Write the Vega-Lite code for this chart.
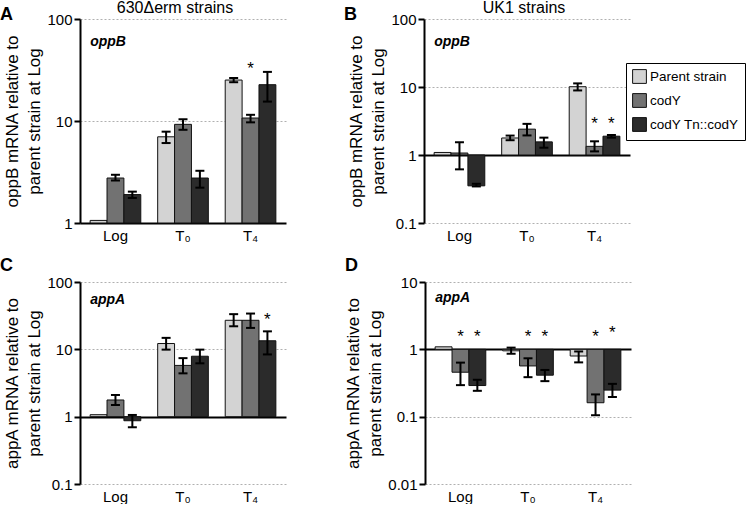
{
  "$schema": "https://vega.github.io/schema/vega-lite/v6.json",
  "background": "white",
  "padding": {"left": 0, "top": 0, "right": 0, "bottom": 0},
  "datasets": {
    "bars": [
      {"panel": "A", "time": "Log", "strain": "Parent strain", "value": 1.06, "base": 1, "lo": null, "hi": null, "star": null},
      {"panel": "A", "time": "Log", "strain": "codY", "value": 2.76, "base": 1, "lo": 2.61, "hi": 2.97, "star": null},
      {"panel": "A", "time": "Log", "strain": "codY Tn::codY", "value": 1.9, "base": 1, "lo": 1.76, "hi": 2.03, "star": null},
      {"panel": "A", "time": "T₀", "strain": "Parent strain", "value": 7.0, "base": 1, "lo": 6.08, "hi": 7.86, "star": null},
      {"panel": "A", "time": "T₀", "strain": "codY", "value": 9.27, "base": 1, "lo": 8.2, "hi": 10.4, "star": null},
      {"panel": "A", "time": "T₀", "strain": "codY Tn::codY", "value": 2.76, "base": 1, "lo": 2.22, "hi": 3.25, "star": null},
      {"panel": "A", "time": "T₄", "strain": "Parent strain", "value": 25.2, "base": 1, "lo": 24.0, "hi": 26.4, "star": null},
      {"panel": "A", "time": "T₄", "strain": "codY", "value": 10.7, "base": 1, "lo": 9.7, "hi": 11.5, "star": 34.8},
      {"panel": "A", "time": "T₄", "strain": "codY Tn::codY", "value": 22.7, "base": 1, "lo": 15.5, "hi": 30.3, "star": null},

      {"panel": "B", "time": "Log", "strain": "Parent strain", "value": 1.09, "base": 1, "lo": null, "hi": null, "star": null},
      {"panel": "B", "time": "Log", "strain": "codY", "value": 1.07, "base": 1, "lo": 0.615, "hi": 1.54, "star": null},
      {"panel": "B", "time": "Log", "strain": "codY Tn::codY", "value": 0.352, "base": 1, "lo": 0.345, "hi": 0.377, "star": null},
      {"panel": "B", "time": "T₀", "strain": "Parent strain", "value": 1.78, "base": 1, "lo": 1.65, "hi": 1.93, "star": null},
      {"panel": "B", "time": "T₀", "strain": "codY", "value": 2.4, "base": 1, "lo": 1.94, "hi": 2.87, "star": null},
      {"panel": "B", "time": "T₀", "strain": "codY Tn::codY", "value": 1.56, "base": 1, "lo": 1.28, "hi": 1.8, "star": null},
      {"panel": "B", "time": "T₄", "strain": "Parent strain", "value": 10.1, "base": 1, "lo": 8.9, "hi": 11.3, "star": null},
      {"panel": "B", "time": "T₄", "strain": "codY", "value": 1.34, "base": 1, "lo": 1.13, "hi": 1.59, "star": 3.18},
      {"panel": "B", "time": "T₄", "strain": "codY Tn::codY", "value": 1.89, "base": 1, "lo": 1.8, "hi": 1.97, "star": 3.18},

      {"panel": "C", "time": "Log", "strain": "Parent strain", "value": 1.07, "base": 1, "lo": null, "hi": null, "star": null},
      {"panel": "C", "time": "Log", "strain": "codY", "value": 1.77, "base": 1, "lo": 1.49, "hi": 2.1, "star": null},
      {"panel": "C", "time": "Log", "strain": "codY Tn::codY", "value": 0.87, "base": 1, "lo": 0.696, "hi": 1.06, "star": null},
      {"panel": "C", "time": "T₀", "strain": "Parent strain", "value": 12.2, "base": 1, "lo": 9.9, "hi": 14.8, "star": null},
      {"panel": "C", "time": "T₀", "strain": "codY", "value": 5.77, "base": 1, "lo": 4.4, "hi": 7.4, "star": null},
      {"panel": "C", "time": "T₀", "strain": "codY Tn::codY", "value": 7.9, "base": 1, "lo": 6.2, "hi": 9.9, "star": null},
      {"panel": "C", "time": "T₄", "strain": "Parent strain", "value": 27.0, "base": 1, "lo": 22.0, "hi": 33.3, "star": null},
      {"panel": "C", "time": "T₄", "strain": "codY", "value": 27.0, "base": 1, "lo": 20.8, "hi": 34.0, "star": null},
      {"panel": "C", "time": "T₄", "strain": "codY Tn::codY", "value": 13.4, "base": 1, "lo": 8.4, "hi": 18.5, "star": 30.3},

      {"panel": "D", "time": "Log", "strain": "Parent strain", "value": 1.09, "base": 1, "lo": null, "hi": null, "star": null},
      {"panel": "D", "time": "Log", "strain": "codY", "value": 0.457, "base": 1, "lo": 0.294, "hi": 0.635, "star": 1.68},
      {"panel": "D", "time": "Log", "strain": "codY Tn::codY", "value": 0.29, "base": 1, "lo": 0.242, "hi": 0.353, "star": 1.68},
      {"panel": "D", "time": "T₀", "strain": "Parent strain", "value": 0.95, "base": 1, "lo": 0.86, "hi": 1.06, "star": null},
      {"panel": "D", "time": "T₀", "strain": "codY", "value": 0.567, "base": 1, "lo": 0.386, "hi": 0.736, "star": 1.68},
      {"panel": "D", "time": "T₀", "strain": "codY Tn::codY", "value": 0.413, "base": 1, "lo": 0.337, "hi": 0.494, "star": 1.68},
      {"panel": "D", "time": "T₄", "strain": "Parent strain", "value": 0.796, "base": 1, "lo": 0.64, "hi": 0.93, "star": null},
      {"panel": "D", "time": "T₄", "strain": "codY", "value": 0.161, "base": 1, "lo": 0.105, "hi": 0.214, "star": 1.68},
      {"panel": "D", "time": "T₄", "strain": "codY Tn::codY", "value": 0.248, "base": 1, "lo": 0.196, "hi": 0.307, "star": 1.93}
    ],
    "notes": [
      {"panel": "A", "kind": "gene", "time": "Log", "at": 59.5, "label": "oppB"},
      {"panel": "A", "kind": "head", "time": "T₀", "at": 100, "label": "630Δerm strains"},
      {"panel": "B", "kind": "gene", "time": "Log", "at": 45.5, "label": "oppB"},
      {"panel": "B", "kind": "head", "time": "T₀", "at": 100, "label": "UK1 strains"},
      {"panel": "C", "kind": "gene", "time": "Log", "at": 53.6, "label": "appA"},
      {"panel": "D", "kind": "gene", "time": "Log", "at": 5.86, "label": "appA"}
    ]
  },
  "config": {
    "font": "Liberation Sans",
    "view": {"stroke": null},
    "axis": {"labelColor": "black", "titleColor": "black", "titleFontWeight": "normal", "labelFont": "Liberation Sans", "titleFont": "Liberation Sans"},
    "axisY": {"domainColor": "black", "domainWidth": 2, "tickColor": "black", "tickWidth": 2, "tickSize": 6, "labelFontSize": 15, "labelPadding": 2, "titleFontSize": 17, "titleLineHeight": 22, "titlePadding": 3,
      "grid": true,
      "gridColor": {"condition": {"test": "datum.value === 1", "value": "black"}, "value": "#b0b0b0"},
      "gridWidth": {"condition": {"test": "datum.value === 1", "value": 2}, "value": 1},
      "gridDash": {"condition": {"test": "datum.value === 1", "value": []}, "value": [2, 2]}},
    "axisX": {"domain": false, "ticks": false, "grid": false, "labelAngle": 0, "labelFontSize": 15, "labelPadding": 5},
    "title": {"color": "black"}
  },
  "spacing": 14,
  "vconcat": [
    {
      "spacing": 58,
      "hconcat": [
        {
          "title": {"text": "A", "anchor": "start", "frame": "group", "dx": -80, "fontSize": 18, "fontWeight": "bold", "offset": -24},
          "width": 206, "height": 204,
          "data": {"name": "bars"},
          "transform": [{"filter": "datum.panel === 'A'"}],
          "encoding": {
            "x": {"field": "time", "type": "nominal", "sort": ["Log", "T₀", "T₄"], "scale": {"paddingInner": 0.25, "paddingOuter": 0.15}, "title": null},
            "xOffset": {"field": "strain", "type": "nominal", "sort": ["Parent strain", "codY", "codY Tn::codY"], "scale": {"paddingInner": 0, "paddingOuter": 0}}
          },
          "layer": [
            {
              "mark": {"type": "bar", "stroke": "#111", "strokeWidth": 1},
              "encoding": {
                "y": {"field": "value", "type": "quantitative", "scale": {"type": "log", "domain": [1, 100]}, "axis": {"values": [1, 10, 100], "format": "~g", "title": ["oppB mRNA relative to", "parent strain at Log"]}},
                "y2": {"field": "base"},
                "color": {"field": "strain", "type": "nominal", "sort": ["Parent strain", "codY", "codY Tn::codY"], "scale": {"domain": ["Parent strain", "codY", "codY Tn::codY"], "range": ["#d3d3d3", "#727272", "#2b2b2b"]}}
              }
            },
            {
              "transform": [{"filter": "isValid(datum.lo)"}],
              "mark": {"type": "rule", "color": "black", "strokeWidth": 2},
              "encoding": {"y": {"field": "lo", "type": "quantitative"}, "y2": {"field": "hi"}}
            },
            {
              "transform": [{"filter": "isValid(datum.lo)"}],
              "mark": {"type": "tick", "orient": "horizontal", "size": 9, "thickness": 2, "color": "black", "opacity": 1},
              "encoding": {"y": {"field": "lo", "type": "quantitative"}}
            },
            {
              "transform": [{"filter": "isValid(datum.hi)"}],
              "mark": {"type": "tick", "orient": "horizontal", "size": 9, "thickness": 2, "color": "black", "opacity": 1},
              "encoding": {"y": {"field": "hi", "type": "quantitative"}}
            },
            {
              "transform": [{"filter": "isValid(datum.star)"}],
              "mark": {"type": "text", "text": "*", "fontSize": 17, "baseline": "middle", "dy": 3, "color": "black"},
              "encoding": {"y": {"field": "star", "type": "quantitative"}}
            },
            {
              "data": {"name": "notes"},
              "transform": [{"filter": "datum.panel === 'A' && datum.kind === 'gene'"}],
              "mark": {"type": "text", "align": "left", "baseline": "middle", "fontSize": 14, "fontStyle": "italic", "fontWeight": "bold", "color": "black"},
              "encoding": {
                "x": {"field": "time", "type": "nominal", "bandPosition": 0},
                "xOffset": null,
                "y": {"field": "at", "type": "quantitative"},
                "text": {"field": "label"}
              }
            },
            {
              "data": {"name": "notes"},
              "transform": [{"filter": "datum.panel === 'A' && datum.kind === 'head'"}],
              "mark": {"type": "text", "align": "center", "baseline": "bottom", "fontSize": 16, "dy": -3, "dx": -8, "color": "black"},
              "encoding": {
                "x": {"field": "time", "type": "nominal"},
                "xOffset": null,
                "y": {"field": "at", "type": "quantitative"},
                "text": {"field": "label"}
              }
            }
          ]
        },
        {
          "title": {"text": "B", "anchor": "start", "frame": "group", "dx": -80, "fontSize": 18, "fontWeight": "bold", "offset": -24},
          "width": 206, "height": 204,
          "data": {"name": "bars"},
          "transform": [{"filter": "datum.panel === 'B'"}],
          "encoding": {
            "x": {"field": "time", "type": "nominal", "sort": ["Log", "T₀", "T₄"], "scale": {"paddingInner": 0.25, "paddingOuter": 0.15}, "title": null},
            "xOffset": {"field": "strain", "type": "nominal", "sort": ["Parent strain", "codY", "codY Tn::codY"], "scale": {"paddingInner": 0, "paddingOuter": 0}}
          },
          "layer": [
            {
              "mark": {"type": "bar", "stroke": "#111", "strokeWidth": 1},
              "encoding": {
                "y": {"field": "value", "type": "quantitative", "scale": {"type": "log", "domain": [0.1, 100]}, "axis": {"values": [0.1, 1, 10, 100], "format": "~g", "title": ["oppB mRNA relative to", "parent strain at Log"]}},
                "y2": {"field": "base"},
                "color": {"field": "strain", "type": "nominal", "sort": ["Parent strain", "codY", "codY Tn::codY"], "scale": {"domain": ["Parent strain", "codY", "codY Tn::codY"], "range": ["#d3d3d3", "#727272", "#2b2b2b"]},
                  "legend": {"orient": "none", "legendX": 546, "legendY": 44, "title": null, "strokeColor": "black", "padding": 6, "symbolType": "square", "symbolSize": 190, "symbolStrokeColor": "black", "symbolStrokeWidth": 1, "labelFontSize": 13.5, "labelColor": "black", "labelFont": "Liberation Sans", "rowPadding": 5, "labelOffset": 3, "fillColor": "white"}}
              }
            },
            {
              "transform": [{"filter": "isValid(datum.lo)"}],
              "mark": {"type": "rule", "color": "black", "strokeWidth": 2},
              "encoding": {"y": {"field": "lo", "type": "quantitative"}, "y2": {"field": "hi"}}
            },
            {
              "transform": [{"filter": "isValid(datum.lo)"}],
              "mark": {"type": "tick", "orient": "horizontal", "size": 9, "thickness": 2, "color": "black", "opacity": 1},
              "encoding": {"y": {"field": "lo", "type": "quantitative"}}
            },
            {
              "transform": [{"filter": "isValid(datum.hi)"}],
              "mark": {"type": "tick", "orient": "horizontal", "size": 9, "thickness": 2, "color": "black", "opacity": 1},
              "encoding": {"y": {"field": "hi", "type": "quantitative"}}
            },
            {
              "transform": [{"filter": "isValid(datum.star)"}],
              "mark": {"type": "text", "text": "*", "fontSize": 17, "baseline": "middle", "dy": 3, "color": "black"},
              "encoding": {"y": {"field": "star", "type": "quantitative"}}
            },
            {
              "data": {"name": "notes"},
              "transform": [{"filter": "datum.panel === 'B' && datum.kind === 'gene'"}],
              "mark": {"type": "text", "align": "left", "baseline": "middle", "fontSize": 14, "fontStyle": "italic", "fontWeight": "bold", "color": "black"},
              "encoding": {
                "x": {"field": "time", "type": "nominal", "bandPosition": 0},
                "xOffset": null,
                "y": {"field": "at", "type": "quantitative"},
                "text": {"field": "label"}
              }
            },
            {
              "data": {"name": "notes"},
              "transform": [{"filter": "datum.panel === 'B' && datum.kind === 'head'"}],
              "mark": {"type": "text", "align": "center", "baseline": "bottom", "fontSize": 16, "dy": -3, "dx": -3, "color": "black"},
              "encoding": {
                "x": {"field": "time", "type": "nominal"},
                "xOffset": null,
                "y": {"field": "at", "type": "quantitative"},
                "text": {"field": "label"}
              }
            }
          ]
        }
      ]
    },
    {
      "spacing": 58,
      "hconcat": [
        {
          "title": {"text": "C", "anchor": "start", "frame": "group", "dx": -80, "fontSize": 18, "fontWeight": "bold", "offset": 0},
          "width": 206, "height": 202,
          "data": {"name": "bars"},
          "transform": [{"filter": "datum.panel === 'C'"}],
          "encoding": {
            "x": {"field": "time", "type": "nominal", "sort": ["Log", "T₀", "T₄"], "scale": {"paddingInner": 0.25, "paddingOuter": 0.15}, "title": null},
            "xOffset": {"field": "strain", "type": "nominal", "sort": ["Parent strain", "codY", "codY Tn::codY"], "scale": {"paddingInner": 0, "paddingOuter": 0}}
          },
          "layer": [
            {
              "mark": {"type": "bar", "stroke": "#111", "strokeWidth": 1},
              "encoding": {
                "y": {"field": "value", "type": "quantitative", "scale": {"type": "log", "domain": [0.1, 100]}, "axis": {"values": [0.1, 1, 10, 100], "format": "~g", "title": ["appA mRNA relative to", "parent strain at Log"]}},
                "y2": {"field": "base"},
                "color": {"field": "strain", "type": "nominal", "sort": ["Parent strain", "codY", "codY Tn::codY"], "scale": {"domain": ["Parent strain", "codY", "codY Tn::codY"], "range": ["#d3d3d3", "#727272", "#2b2b2b"]}}
              }
            },
            {
              "transform": [{"filter": "isValid(datum.lo)"}],
              "mark": {"type": "rule", "color": "black", "strokeWidth": 2},
              "encoding": {"y": {"field": "lo", "type": "quantitative"}, "y2": {"field": "hi"}}
            },
            {
              "transform": [{"filter": "isValid(datum.lo)"}],
              "mark": {"type": "tick", "orient": "horizontal", "size": 9, "thickness": 2, "color": "black", "opacity": 1},
              "encoding": {"y": {"field": "lo", "type": "quantitative"}}
            },
            {
              "transform": [{"filter": "isValid(datum.hi)"}],
              "mark": {"type": "tick", "orient": "horizontal", "size": 9, "thickness": 2, "color": "black", "opacity": 1},
              "encoding": {"y": {"field": "hi", "type": "quantitative"}}
            },
            {
              "transform": [{"filter": "isValid(datum.star)"}],
              "mark": {"type": "text", "text": "*", "fontSize": 17, "baseline": "middle", "dy": 3, "color": "black"},
              "encoding": {"y": {"field": "star", "type": "quantitative"}}
            },
            {
              "data": {"name": "notes"},
              "transform": [{"filter": "datum.panel === 'C' && datum.kind === 'gene'"}],
              "mark": {"type": "text", "align": "left", "baseline": "middle", "fontSize": 14, "fontStyle": "italic", "fontWeight": "bold", "color": "black"},
              "encoding": {
                "x": {"field": "time", "type": "nominal", "bandPosition": 0},
                "xOffset": null,
                "y": {"field": "at", "type": "quantitative"},
                "text": {"field": "label"}
              }
            }
          ]
        },
        {
          "title": {"text": "D", "anchor": "start", "frame": "group", "dx": -80, "fontSize": 18, "fontWeight": "bold", "offset": 0},
          "width": 206, "height": 202,
          "data": {"name": "bars"},
          "transform": [{"filter": "datum.panel === 'D'"}],
          "encoding": {
            "x": {"field": "time", "type": "nominal", "sort": ["Log", "T₀", "T₄"], "scale": {"paddingInner": 0.25, "paddingOuter": 0.15}, "title": null},
            "xOffset": {"field": "strain", "type": "nominal", "sort": ["Parent strain", "codY", "codY Tn::codY"], "scale": {"paddingInner": 0, "paddingOuter": 0}}
          },
          "layer": [
            {
              "mark": {"type": "bar", "stroke": "#111", "strokeWidth": 1},
              "encoding": {
                "y": {"field": "value", "type": "quantitative", "scale": {"type": "log", "domain": [0.01, 10]}, "axis": {"values": [0.01, 0.1, 1, 10], "format": "~g", "title": ["appA mRNA relative to", "parent strain at Log"]}},
                "y2": {"field": "base"},
                "color": {"field": "strain", "type": "nominal", "sort": ["Parent strain", "codY", "codY Tn::codY"], "scale": {"domain": ["Parent strain", "codY", "codY Tn::codY"], "range": ["#d3d3d3", "#727272", "#2b2b2b"]}}
              }
            },
            {
              "transform": [{"filter": "isValid(datum.lo)"}],
              "mark": {"type": "rule", "color": "black", "strokeWidth": 2},
              "encoding": {"y": {"field": "lo", "type": "quantitative"}, "y2": {"field": "hi"}}
            },
            {
              "transform": [{"filter": "isValid(datum.lo)"}],
              "mark": {"type": "tick", "orient": "horizontal", "size": 9, "thickness": 2, "color": "black", "opacity": 1},
              "encoding": {"y": {"field": "lo", "type": "quantitative"}}
            },
            {
              "transform": [{"filter": "isValid(datum.hi)"}],
              "mark": {"type": "tick", "orient": "horizontal", "size": 9, "thickness": 2, "color": "black", "opacity": 1},
              "encoding": {"y": {"field": "hi", "type": "quantitative"}}
            },
            {
              "transform": [{"filter": "isValid(datum.star)"}],
              "mark": {"type": "text", "text": "*", "fontSize": 17, "baseline": "middle", "dy": 3, "color": "black"},
              "encoding": {"y": {"field": "star", "type": "quantitative"}}
            },
            {
              "data": {"name": "notes"},
              "transform": [{"filter": "datum.panel === 'D' && datum.kind === 'gene'"}],
              "mark": {"type": "text", "align": "left", "baseline": "middle", "fontSize": 14, "fontStyle": "italic", "fontWeight": "bold", "color": "black"},
              "encoding": {
                "x": {"field": "time", "type": "nominal", "bandPosition": 0},
                "xOffset": null,
                "y": {"field": "at", "type": "quantitative"},
                "text": {"field": "label"}
              }
            }
          ]
        }
      ]
    }
  ]
}
